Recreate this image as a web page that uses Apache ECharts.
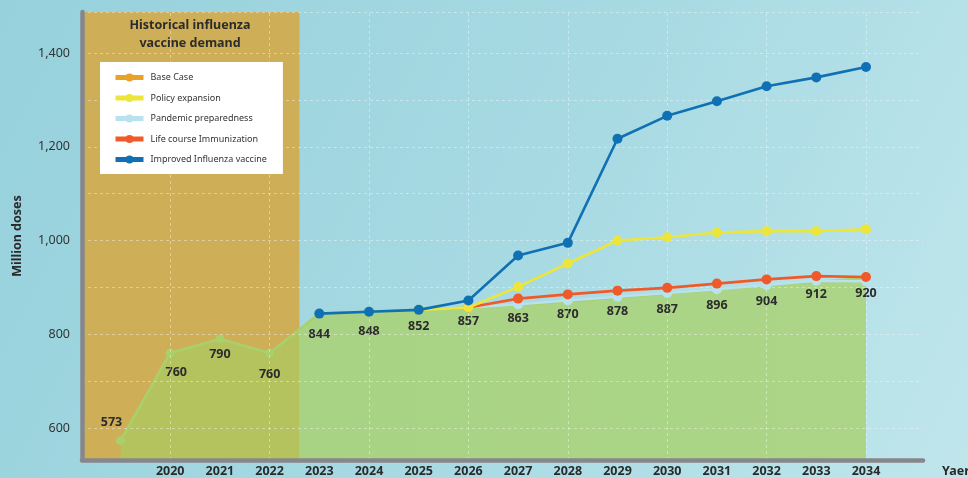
<!DOCTYPE html>
<html><head><meta charset="utf-8">
<script src="https://cdn.jsdelivr.net/npm/echarts@6/dist/echarts.min.js"></script>
<style>html,body{margin:0;padding:0;background:#fff}#c{width:968px;height:478px;}</style>
</head><body><div id="c"></div>
<script>
// ---- data ----
const years = [2019,2020,2021,2022,2023,2024,2025,2026,2027,2028,2029,2030,2031,2032,2033,2034];
const historicalDemand = [573,760,790,760,844,null,null,null,null,null,null,null,null,null,null,null];
const baseCase         = [null,null,null,null,844,848,852,857,863,870,878,887,896,904,912,920];
const policyExpansion  = [null,null,null,null,null,null,852,857,901,951,1000,1007,1017,1020,1020,1024];
const pandemicPrep     = [null,null,null,null,null,null,null,857,864,872,880,888,896,905,914,913];
const lifeCourse       = [null,null,null,null,null,null,null,857,876,885,893,899,908,917,924,922];
const improvedVaccine  = [null,null,null,null,844,848,852,872,968,995,1217,1266,1297,1329,1348,1370];
const labelYears = [2020,2021,2022,2023,2024,2025,2026,2027,2028,2029,2030,2031,2032,2033,2034];
const gridYears = [2020,2022,2024,2026,2028,2030,2032,2034];
const yLabelValues = [600,800,1000,1200,1400];
const historicalEndYear = 2022.6;

// ---- layout / style ----
const FONT = '"Noto Sans", "DejaVu Sans", sans-serif';
const xMin = 2018.225, xMax = 2035.147;
const yMin = 531.7, yMax = 1487.5;
const labelOffsets = [
  {pos:'top',dx:-9,dy:2}, {dx:6,dy:-1}, {dx:0,dy:-4}, {dx:0,dy:1},
  {dx:0,dy:5}, {dx:0,dy:4}, {dx:0,dy:1.5}, {dx:0,dy:-1.5},
  {dx:0,dy:-2}, {dx:0,dy:-2}, {dx:0,dy:-2}, {dx:0,dy:0},
  {dx:0,dy:1}, {dx:0,dy:0.5}, {dx:0,dy:-2.5}, {dx:0,dy:0}
];

const pairs = arr => years.map((y,i)=> arr[i]==null?null:[y,arr[i]]).filter(p=>p);
const areaValues = years.map((y,i)=> historicalDemand[i]!=null ? historicalDemand[i] : baseCase[i]);

const areaData = areaValues.map((v,i)=>{
  const isHist = i < 4;
  const o = labelOffsets[i];
  return {
    value:[years[i], v],
    symbolSize: isHist ? 9 : 0,
    label:{position:o.pos||'bottom', distance:9, offset:[o.dx,o.dy]}
  };
});

function lineSeries(name, arr, color, z){
  return {
    name, type:'line', data:pairs(arr), z,
    symbol:'circle', symbolSize:10,
    itemStyle:{color}, lineStyle:{color, width:2.6},
    emphasis:{disabled:true}, animation:false
  };
}

const chart = echarts.init(document.getElementById('c'), null, {renderer:'canvas'});
chart.setOption({
  animation:false,
  backgroundColor: new echarts.graphic.LinearGradient(0,0,1,1,[
    {offset:0,color:'#96d1dc'},{offset:0.55,color:'#a8dae3'},{offset:1,color:'#c0e6ec'}
  ]),
  grid:{left:82, right:45, top:12, bottom:18, containLabel:false, outerBoundsMode:'none'},
  xAxis:{
    type:'value', min:xMin, max:xMax, splitNumber:17, minInterval:1, maxInterval:1, z:3,
    name:'Yaer', nameLocation:'end', nameGap:19,
    nameTextStyle:{fontFamily:FONT, fontWeight:'bold', fontSize:12.5, color:'#2a2a2a', align:'left', verticalAlign:'top', padding:[5,0,0,0]},
    axisLine:{show:true, lineStyle:{color:'#86878b', width:4.5}},
    axisTick:{show:false},
    splitLine:{show:false},
    axisLabel:{
      margin:5, fontFamily:FONT, fontWeight:'bold', fontSize:12.5, color:'#2a2a2a',
      showMinLabel:false, showMaxLabel:false,
      formatter: v => labelYears.includes(Math.round(v)) && Math.abs(v-Math.round(v))<1e-6 ? String(Math.round(v)) : ''
    }
  },
  yAxis:{
    type:'value', min:yMin, max:yMax, splitNumber:10, minInterval:100, maxInterval:100, z:3,
    name:'Million doses', nameLocation:'middle', nameGap:58,
    nameTextStyle:{fontFamily:FONT, fontWeight:'bold', fontSize:12.5, color:'#2a2a2a'},
    axisLine:{show:true, lineStyle:{color:'#86878b', width:4.5}},
    axisTick:{show:false},
    splitLine:{show:true, lineStyle:{color:'rgba(255,255,255,0.38)', width:1, type:[3,3]}},
    axisLabel:{
      margin:12, fontFamily:FONT, fontSize:12.5, color:'#333',
      showMinLabel:false, showMaxLabel:false,
      formatter: v => yLabelValues.includes(Math.round(v)) && Math.abs(v-Math.round(v))<1e-6 ? Math.round(v).toLocaleString('en-US') : ''
    }
  },
  legend:{
    orient:'vertical', left:100, top:62, z:6,
    backgroundColor:'#ffffff', borderWidth:0,
    padding:[11,16,10,13], itemGap:11.5, itemWidth:28, itemHeight:10,
    lineStyle:{width:5},
    textStyle:{fontFamily:FONT, fontSize:9, color:'#333', padding:[0,0,0,2]},
    selectedMode:false,
    data:[
      {name:'Base Case', itemStyle:{color:'#e9a227'}, lineStyle:{color:'#e9a227', width:5}},
      'Policy expansion','Pandemic preparedness','Life course Immunization','Improved Influenza vaccine'
    ]
  },
  graphic:[{
    type:'text', x:190, y:16, z:10,
    style:{text:'Historical influenza\nvaccine demand', align:'center', verticalAlign:'top',
      font:'bold 12.5px '+FONT, fill:'#2c2c2c', lineHeight:18}
  }],
  series:[
    { // historical box
      type:'line', data:[], z:1, silent:true,
      markArea:{silent:true, z:1, itemStyle:{color:'#cfae58'}, data:[[{xAxis:xMin},{xAxis:historicalEndYear}]]}
    },
    { // historical + base case area
      name:'Base Case', type:'line', data:areaData, z:2,
      symbol:'circle', itemStyle:{color:'#a9d06b'}, lineStyle:{color:'#a9d06b', width:2.6},
      areaStyle:{opacity:1, color:new echarts.graphic.LinearGradient(0,0,968,0,[
        {offset:0,color:'#b4c35d'},{offset:299.3/968,color:'#b4c35d'},
        {offset:299.3/968,color:'#a9d384'},{offset:1,color:'#acd588'}],true)},
      label:{show:true, fontFamily:FONT, fontWeight:'bold', fontSize:12.5, color:'#2c2c2c',
        formatter:p=>p.value[1]},
      emphasis:{disabled:true}
    },
    { // vertical grid lines
      type:'line', data:[], z:3, silent:true,
      markLine:{silent:true, z:3, symbol:'none', label:{show:false},
        lineStyle:{color:'rgba(255,255,255,0.38)', width:1, type:[3,3]},
        data: gridYears.map(y=>({xAxis:y}))}
    },
    lineSeries('Pandemic preparedness', pandemicPrep, '#b7e2ef', 4),
    lineSeries('Life course Immunization', lifeCourse, '#f05a2a', 5),
    lineSeries('Policy expansion', policyExpansion, '#ece63c', 6),
    lineSeries('Improved Influenza vaccine', improvedVaccine, '#0f71b4', 7)
  ]
});
</script></body></html>
